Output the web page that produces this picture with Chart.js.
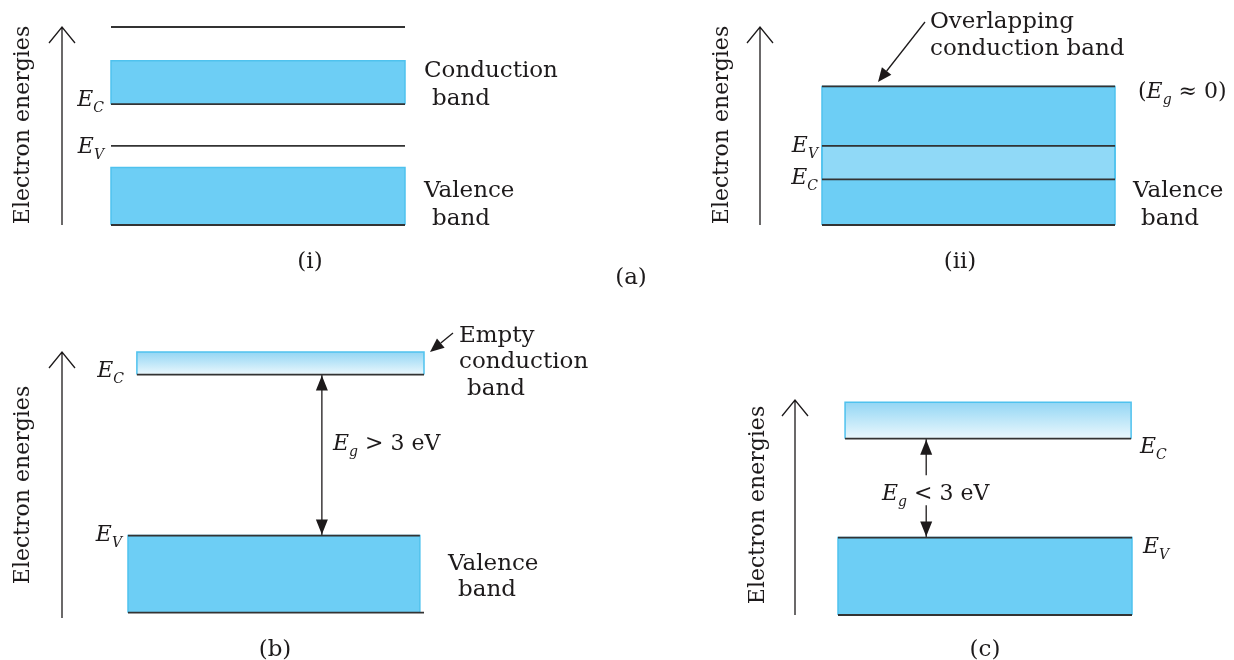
<!DOCTYPE html>
<html>
<head>
<meta charset="utf-8">
<script src="https://cdn.jsdelivr.net/npm/chart.js@4.4.1/dist/chart.umd.min.js"></script>
<style>
  body { margin: 0; background: #fff; }
  #wrap { position: relative; width: 1234px; height: 660px; overflow: hidden; }
  #wrap canvas { position: absolute; }
</style>
</head>
<body>
<div id="wrap">
  <canvas id="panelMetal" width="617" height="300" style="left:0;top:0"></canvas>
  <canvas id="panelOverlap" width="617" height="300" style="left:617px;top:0"></canvas>
  <canvas id="panelInsulator" width="617" height="360" style="left:0;top:300px"></canvas>
  <canvas id="panelSemi" width="617" height="360" style="left:617px;top:300px"></canvas>
</div>
<script>
// Энергии в условных единицах, ось каждой панели от 0 до 10
const ENERGY_MIN = 0;
const ENERGY_MAX = 10;

// (a)(i): зоны [низ, верх] и уровни
const metalBands = [[6.1, 8.3], [0, 2.9]];
const metalKinds = ['filled', 'filled'];
const metalLevels = [10, 6.1, 4.0, 0];
const metalLevelNames = ['', 'C', 'V', ''];

// (a)(ii): перекрывающиеся зоны
const overlapBands = [[2.3, 7.0], [0, 4.0]];
const overlapKinds = ['filled', 'filled'];
const overlapLevels = [7.0, 4.0, 2.3, 0];
const overlapLevelNames = ['', 'V', 'C', ''];

// (b): диэлектрик
const insulatorBands = [[9.15, 10], [0.2, 3.1]];
const insulatorKinds = ['empty', 'filled'];
const insulatorLevels = [9.15, 3.1, 0.2];
const insulatorLevelNames = ['C', 'V', ''];
const insulatorGap = [3.1, 9.15];

// (c): полупроводник
const semiBands = [[8.2, 9.9], [0, 3.6]];
const semiKinds = ['empty', 'filled'];
const semiLevels = [8.2, 3.6, 0];
const semiLevelNames = ['C', 'V', ''];
const semiGap = [3.6, 8.2];

// Тексты
const axisTitle = 'Electron energies';
const captions = ['(i)', '(ii)', '(a)', '(b)', '(c)'];
const gapTexts = [' > 3 eV', ' < 3 eV'];

// Стили
const SERIF = '"DejaVu Serif", serif';
const INK = '#1d1a1b';
const LINE = '#333333';
const FILL = '#6dcef5';
const OVERLAP_FILL = '#90d9f7';
const EDGE = '#4fc2ee';
const GRAD_TOP = '#93d6f4';
const GRAD_BOTTOM = '#ebf8fd';

function seg(points, color, width) {
    return {
        data: points, showLine: true, borderColor: color, borderWidth: width,
        pointRadius: 0, fill: false, clip: false, spanGaps: false
    };
}

function bandFill(band, span, color) {
    return {
        data: [{x: span[0], y: band[1]}, {x: span[1], y: band[1]}],
        showLine: true, borderWidth: 0, pointRadius: 0, clip: false,
        fill: {value: band[0]},
        backgroundColor: color
    };
}

function gradientFor(band) {
    return function (context) {
        const chart = context.chart;
        if (!chart.chartArea) return GRAD_TOP;
        const y = chart.scales.y;
        const g = chart.ctx.createLinearGradient(0, y.getPixelForValue(band[1]), 0, y.getPixelForValue(band[0]));
        g.addColorStop(0, GRAD_TOP);
        g.addColorStop(1, GRAD_BOTTOM);
        return g;
    };
}

function rich(ctx, parts, x, y, align) {
    // parts: [текст, курсив, подстрочный]
    let w = 0;
    parts.forEach(p => {
        ctx.font = (p[1] ? 'italic ' : '') + (p[2] ? '14px ' : '22px ') + SERIF;
        w += ctx.measureText(p[0]).width;
    });
    let cx = align === 'right' ? x - w : (align === 'center' ? x - w / 2 : x);
    ctx.textAlign = 'left';
    ctx.textBaseline = 'alphabetic';
    ctx.fillStyle = INK;
    parts.forEach(p => {
        ctx.font = (p[1] ? 'italic ' : '') + (p[2] ? '14px ' : '22px ') + SERIF;
        ctx.fillText(p[0], cx, p[2] ? y + 6 : y);
        cx += ctx.measureText(p[0]).width;
    });
}

function pointer(ctx, from, to) {
    const ang = Math.atan2(to[1] - from[1], to[0] - from[0]);
    const hl = 14, hw = 6;
    ctx.strokeStyle = INK;
    ctx.fillStyle = INK;
    ctx.lineWidth = 1.3;
    ctx.beginPath();
    ctx.moveTo(from[0], from[1]);
    ctx.lineTo(to[0] - Math.cos(ang) * hl, to[1] - Math.sin(ang) * hl);
    ctx.stroke();
    ctx.beginPath();
    ctx.moveTo(to[0], to[1]);
    ctx.lineTo(to[0] - Math.cos(ang) * hl - Math.sin(ang) * hw, to[1] - Math.sin(ang) * hl + Math.cos(ang) * hw);
    ctx.lineTo(to[0] - Math.cos(ang) * hl + Math.sin(ang) * hw, to[1] - Math.sin(ang) * hl - Math.cos(ang) * hw);
    ctx.closePath();
    ctx.fill();
}

function makePanel(canvasId, d, L) {
    const datasets = [];

    // Уровни (рисуются поверх всего)
    d.levels.forEach((e, i) => {
        const s = L.levelSpans[i];
        datasets.push(seg([{x: s[0], y: e}, {x: s[1], y: e}], LINE, 1.8));
    });

    // Стрелка ширины запрещённой зоны
    if (d.gap) {
        const pts = [{x: L.gapX, y: d.gap[0]}];
        if (L.gapHole) {
            pts.push({x: L.gapX, y: L.gapHole[0]}, {x: L.gapX, y: null}, {x: L.gapX, y: L.gapHole[1]});
        }
        pts.push({x: L.gapX, y: d.gap[1]});
        datasets.push(seg(pts, INK, 1.3));
    }

    // Контуры зон
    d.bands.forEach((b, i) => {
        const s = L.bandSpans[i];
        datasets.push(seg([{x: s[0], y: b[0]}, {x: s[0], y: b[1]}, {x: s[1], y: b[1]}, {x: s[1], y: b[0]}], EDGE, 1.5));
    });

    // Область перекрытия зон
    if (d.overlap) {
        const lo = Math.max(d.bands[0][0], d.bands[1][0]);
        const hi = Math.min(d.bands[0][1], d.bands[1][1]);
        datasets.push(bandFill([lo, hi], L.bandSpans[0], OVERLAP_FILL));
    }

    // Заливка зон
    d.bands.forEach((b, i) => {
        const color = d.kinds[i] === 'empty' ? gradientFor(b) : FILL;
        datasets.push(bandFill(b, L.bandSpans[i], color));
    });

    const notes = {
        id: 'notes',
        afterDraw(chart) {
            const {ctx, chartArea: ca, scales: {y}} = chart;
            ctx.save();

            // Ось энергии со стрелкой
            const ax = ca.left + L.arrowDx;
            const y0 = y.getPixelForValue(ENERGY_MIN);
            const y1 = y.getPixelForValue(ENERGY_MAX);
            ctx.strokeStyle = INK;
            ctx.lineWidth = 1.3;
            ctx.beginPath();
            ctx.moveTo(ax, y0);
            ctx.lineTo(ax, y1);
            ctx.moveTo(ax - 13, y1 + 16);
            ctx.lineTo(ax, y1);
            ctx.lineTo(ax + 13, y1 + 16);
            ctx.stroke();

            // Подпись оси
            ctx.save();
            ctx.translate(L.title[0], L.title[1]);
            ctx.rotate(-Math.PI / 2);
            ctx.font = '22px ' + SERIF;
            ctx.fillStyle = INK;
            ctx.textAlign = 'center';
            ctx.textBaseline = 'alphabetic';
            ctx.fillText(axisTitle, 0, 0);
            ctx.restore();

            // E_C, E_V
            d.names.forEach((n, i) => {
                if (!n) return;
                const py = y.getPixelForValue(d.levels[i]) + L.nameDy[i];
                if (L.nameSide === 'left') {
                    rich(ctx, [['E', true, false], [n, true, true]], ca.left + L.nameDx[i], py, 'right');
                } else {
                    rich(ctx, [['E', true, false], [n, true, true]], ca.right + L.nameDx[i], py, 'left');
                }
            });

            // Наконечники стрелки E_g
            if (d.gap) {
                const gx = chart.scales.x.getPixelForValue(L.gapX);
                const gb = y.getPixelForValue(d.gap[0]);
                const gt = y.getPixelForValue(d.gap[1]);
                ctx.fillStyle = INK;
                ctx.beginPath();
                ctx.moveTo(gx, gt + 1); ctx.lineTo(gx - 6, gt + 16); ctx.lineTo(gx + 6, gt + 16);
                ctx.closePath(); ctx.fill();
                ctx.beginPath();
                ctx.moveTo(gx, gb - 1); ctx.lineTo(gx - 6, gb - 16); ctx.lineTo(gx + 6, gb - 16);
                ctx.closePath(); ctx.fill();
                rich(ctx, [['E', true, false], ['g', true, true], [L.gapText, false, false]], L.gapLabel[0], L.gapLabel[1], 'left');
            }

            // Прочие надписи
            L.notes.forEach(n => {
                ctx.font = '23px ' + SERIF;
                ctx.fillStyle = INK;
                ctx.textAlign = n[3] || 'left';
                ctx.textBaseline = 'alphabetic';
                ctx.fillText(n[0], n[1], n[2]);
            });
            if (L.extra) L.extra(ctx);
            if (L.pointer) pointer(ctx, L.pointer[0], L.pointer[1]);
            ctx.restore();
        }
    };

    return new Chart(document.getElementById(canvasId), {
        type: 'scatter',
        data: {datasets},
        options: {
            responsive: false,
            animation: false,
            events: [],
            layout: {padding: L.padding},
            plugins: {legend: {display: false}, tooltip: {enabled: false}},
            scales: {
                x: {type: 'linear', min: 0, max: 100, display: false},
                y: {type: 'linear', min: ENERGY_MIN, max: ENERGY_MAX, display: false}
            }
        },
        plugins: [notes]
    });
}

const full = [0, 100];

makePanel('panelMetal',
    {bands: metalBands, kinds: metalKinds, levels: metalLevels, names: metalLevelNames},
    {
        padding: {left: 111, right: 212, top: 27, bottom: 75},
        bandSpans: [full, full], levelSpans: [full, full, full, full],
        arrowDx: -49, title: [29, 125],
        nameSide: 'left', nameDx: [0, -7, -7, 0], nameDy: [0, 2, 7, 0],
        notes: [['Conduction', 424, 77], ['band', 432, 105], ['Valence', 424, 197], ['band', 432, 225],
                [captions[0], 310, 268, 'center']]
    });

makePanel('panelOverlap',
    {bands: overlapBands, kinds: overlapKinds, levels: overlapLevels, names: overlapLevelNames, overlap: true},
    {
        padding: {left: 205, right: 119, top: 27, bottom: 75},
        bandSpans: [full, full], levelSpans: [full, full, full, full],
        arrowDx: -62, title: [111, 125],
        nameSide: 'left', nameDx: [0, -4, -4, 0], nameDy: [0, 6, 5, 0],
        notes: [['Overlapping', 313, 28], ['conduction band', 313, 55], ['Valence', 516, 197], ['band', 524, 225],
                [captions[1], 343, 268, 'center'], [captions[2], 14, 284, 'center']],
        extra: ctx => rich(ctx, [['(', false, false], ['E', true, false], ['g', true, true], [' \u2248 0)', false, false]], 521, 98, 'left'),
        pointer: [[308, 22], [261, 82]]
    });

makePanel('panelInsulator',
    {bands: insulatorBands, kinds: insulatorKinds, levels: insulatorLevels, names: insulatorLevelNames, gap: insulatorGap},
    {
        padding: {left: 128, right: 193, top: 52, bottom: 42},
        bandSpans: [[3, 100], [0, 98.6]], levelSpans: [[3, 100], [0, 98.6], full],
        arrowDx: -66, title: [29, 185],
        nameSide: 'left', nameDx: [-4, -6, 0], nameDy: [2, 5, 0],
        gapX: 65.5, gapHole: null, gapText: gapTexts[0], gapLabel: [333, 150],
        notes: [['Empty', 459, 42], ['conduction', 459, 68], ['band', 467, 95], ['Valence', 448, 270], ['band', 458, 296],
                [captions[3], 275, 356, 'center']],
        pointer: [[453, 33], [430, 52]]
    });

makePanel('panelSemi',
    {bands: semiBands, kinds: semiKinds, levels: semiLevels, names: semiLevelNames, gap: semiGap},
    {
        padding: {left: 221, right: 102, top: 100, bottom: 45},
        bandSpans: [[2.4, 99.7], full], levelSpans: [[2.4, 99.7], full, full],
        arrowDx: -43, title: [147, 205],
        nameSide: 'right', nameDx: [8, 11, 0], nameDy: [14, 15, 0],
        gapX: 30, gapHole: [5.1, 6.5], gapText: gapTexts[1], gapLabel: [265, 200],
        notes: [[captions[4], 368, 356, 'center']]
    });
</script>
</body>
</html>
